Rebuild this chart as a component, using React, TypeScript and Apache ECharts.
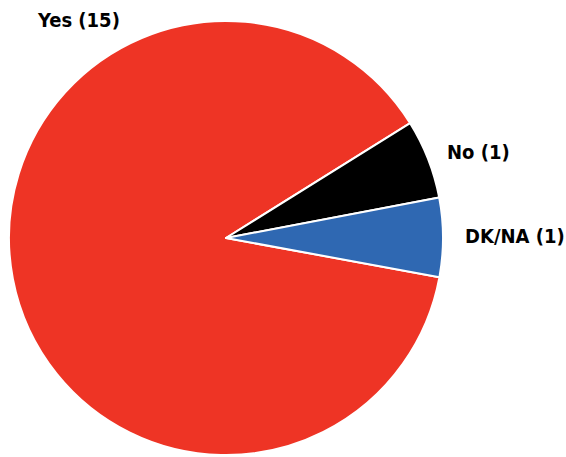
import React, { useEffect, useRef } from "react";
import * as echarts from "echarts";

const categories = ["Yes", "No", "DK/NA"];
const values = [15, 1, 1];
const colors = ["#EE3425", "#000000", "#2F68B2"];

const labelSpots = [
  { x: 38, y: 20 },
  { x: 447, y: 152 },
  { x: 465, y: 236 },
];

export default function App() {
  const ref = useRef<HTMLDivElement>(null);
  useEffect(() => {
    if (!ref.current) return;
    const chart = echarts.init(ref.current, null, { renderer: "svg" });
    chart.setOption({
      animation: false,
      backgroundColor: "#ffffff",
      series: [
        {
          type: "pie",
          center: [226, 238],
          radius: 217,
          startAngle: -10.4,
          clockwise: true,
          avoidLabelOverlap: false,
          data: categories.map((c, i) => ({
            name: c,
            value: values[i],
            itemStyle: { color: colors[i] },
          })),
          itemStyle: { borderColor: "#ffffff", borderWidth: 2 },
          label: {
            show: true,
            position: "outside",
            formatter: (p: any) => `${p.name} (${p.value})`,
            fontFamily: "DejaVu Sans Condensed, DejaVu Sans",
            fontWeight: "bold",
            fontSize: 20,
            color: "#000000",
            overflow: "none",
            width: 200,
          },
          labelLine: { show: false },
          labelLayout: (params: any) => {
            const s = labelSpots[params.dataIndex];
            return {
              x: s.x,
              y: s.y,
              align: "left",
              verticalAlign: "middle",
              hideOverlap: false,
              moveOverlap: false,
            };
          },
          emphasis: { disabled: true },
        },
      ],
    });
    return () => chart.dispose();
  }, []);
  return (
    <div
      ref={ref}
      style={{ position: "fixed", left: 0, top: 0, width: 566, height: 457 }}
    />
  );
}
